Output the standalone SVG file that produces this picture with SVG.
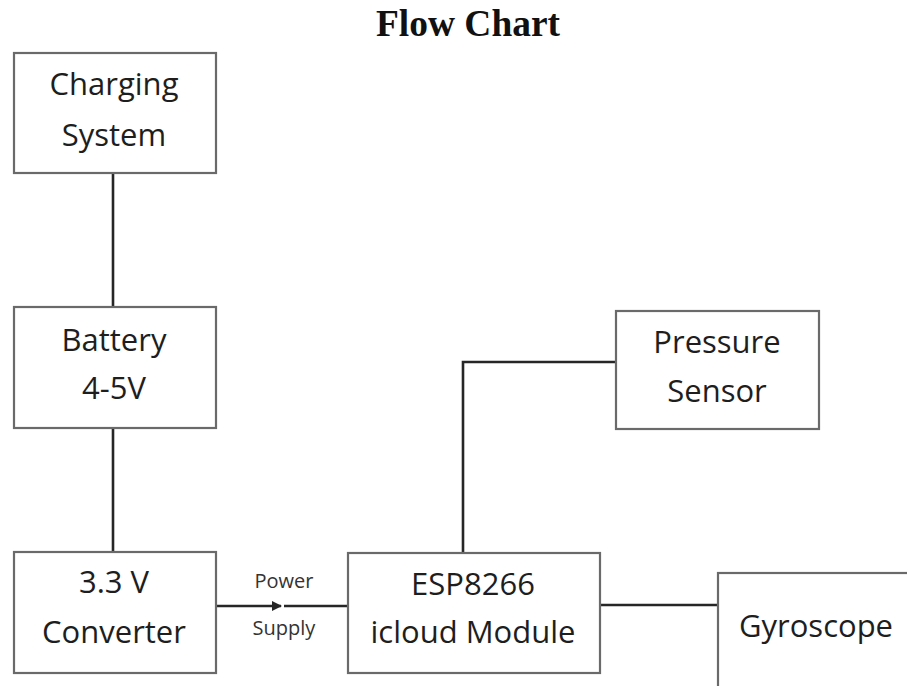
<svg xmlns="http://www.w3.org/2000/svg" width="907" height="686" viewBox="0 0 907 686">
<style>
.box{fill:#fff;stroke:#6a6a6a;stroke-width:2.2}
.lbl{font-family:"Open Sans","Liberation Sans",sans-serif;font-size:31px;fill:#1e1e1e;text-anchor:middle}
.small{font-family:"Open Sans","Liberation Sans",sans-serif;font-size:20px;fill:#333;text-anchor:middle}
.con{stroke:#262626;stroke-width:2.6;fill:none}
</style>
<defs>
<marker id="arr" viewBox="0 0 10 10" refX="9" refY="5" markerWidth="4" markerHeight="4" orient="auto" markerUnits="strokeWidth">
<path d="M0,0 L10,5 L0,10 z" fill="#262626"/>
</marker>
</defs>
<rect width="907" height="686" fill="#fff"/>
<text x="468" y="36" font-family="Liberation Serif,serif" font-weight="bold" font-size="37" fill="#111" text-anchor="middle" textLength="184" lengthAdjust="spacingAndGlyphs">Flow Chart</text>
<g id="connectors">
<line class="con" x1="113" y1="173" x2="113" y2="307"/>
<line class="con" x1="113" y1="428" x2="113" y2="552"/>
<line class="con" x1="216" y1="606" x2="281" y2="606" marker-end="url(#arr)"/>
<line class="con" x1="284" y1="606" x2="348" y2="606"/>
<polyline class="con" points="463,553 463,362 616,362"/>
<line class="con" x1="600" y1="605" x2="718" y2="605"/>
</g>
<g id="charging">
<rect class="box" x="14" y="53" width="202" height="120"/>
<text class="lbl" x="114" y="95">Charging</text>
<text class="lbl" x="114" y="146">System</text>
</g>
<g id="battery">
<rect class="box" x="14" y="307" width="202" height="121"/>
<text class="lbl" x="114" y="351">Battery</text>
<text class="lbl" x="114" y="399">4-5V</text>
</g>
<g id="converter">
<rect class="box" x="14" y="552" width="202" height="121"/>
<text class="lbl" x="114" y="593">3.3 V</text>
<text class="lbl" x="114" y="643">Converter</text>
</g>
<g id="power-label">
<text class="small" x="284" y="588">Power</text>
<text class="small" x="284" y="635">Supply</text>
</g>
<g id="esp">
<rect class="box" x="348" y="553" width="252" height="120"/>
<text class="lbl" x="473" y="595">ESP8266</text>
<text class="lbl" x="473" y="643">icloud Module</text>
</g>
<g id="pressure">
<rect class="box" x="616" y="311" width="203" height="118"/>
<text class="lbl" x="717" y="353">Pressure</text>
<text class="lbl" x="717" y="402">Sensor</text>
</g>
<g id="gyroscope">
<rect class="box" x="718" y="573" width="200" height="130"/>
<text class="lbl" x="816" y="637">Gyroscope</text>
</g>
</svg>
